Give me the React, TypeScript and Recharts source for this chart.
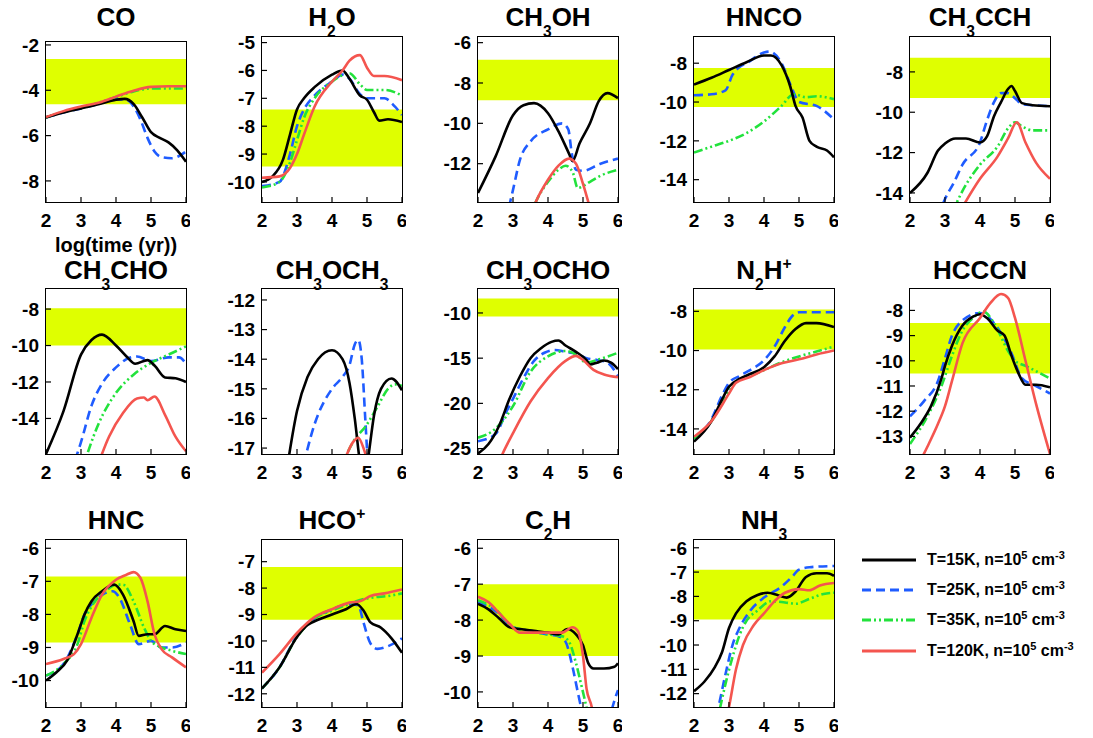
import React from 'react';
import { LineChart, Line, XAxis, YAxis, ReferenceArea } from 'recharts';

type Pt = [number, number];

// ---- CO ----
const coBlack: Pt[] = [[2, -5.2], [2.5, -4.98], [3, -4.8], [3.5, -4.62], [4, -4.42], [4.25, -4.38], [4.5, -4.6], [4.75, -5.2], [5, -5.85], [5.25, -6.1], [5.5, -6.3], [5.75, -6.65], [6, -7.15]];
const coBlue: Pt[] = [[2, -5.2], [2.5, -4.98], [3, -4.8], [3.5, -4.6], [4, -4.4], [4.3, -4.42], [4.5, -4.7], [4.7, -5.3], [4.9, -6.1], [5.1, -6.7], [5.3, -6.95], [5.6, -7.0], [5.8, -6.9], [6, -6.7]];
const coGreen: Pt[] = [[2, -5.2], [2.5, -4.95], [3, -4.78], [3.5, -4.55], [4, -4.3], [4.5, -4.05], [5, -3.92], [5.5, -3.92], [6, -3.92]];
const coRed: Pt[] = [[2, -5.18], [2.5, -4.92], [3, -4.72], [3.5, -4.55], [4, -4.28], [4.5, -4.02], [5, -3.85], [5.5, -3.82], [6, -3.82]];

// ---- H2O ----
const h2oBlack: Pt[] = [[2, -10.0], [2.3, -9.8], [2.6, -9.2], [2.8, -8.3], [3, -7.4], [3.2, -7.0], [3.5, -6.6], [4, -6.15], [4.3, -6.0], [4.5, -6.3], [4.8, -6.9], [5, -7.05], [5.2, -7.5], [5.35, -7.8], [5.6, -7.75], [6, -7.85]];
const h2oBlue: Pt[] = [[2, -10.15], [2.5, -10.0], [2.8, -9.0], [3, -8.0], [3.2, -7.4], [3.5, -6.9], [4, -6.4], [4.3, -6.15], [4.5, -6.3], [4.8, -6.85], [5, -7.0], [5.5, -7.0], [5.8, -7.3], [6, -7.6]];
const h2oGreen: Pt[] = [[2, -10.2], [2.5, -10.0], [2.8, -9.3], [3, -8.5], [3.2, -7.7], [3.5, -7.0], [4, -6.4], [4.5, -6.1], [4.8, -6.5], [5, -6.7], [5.5, -6.7], [6, -6.9]];
const h2oRed: Pt[] = [[2, -9.85], [2.5, -9.8], [2.8, -9.5], [3, -9.0], [3.2, -8.3], [3.5, -7.3], [4, -6.4], [4.3, -6.0], [4.5, -5.65], [4.8, -5.45], [5, -5.9], [5.2, -6.2], [5.5, -6.2], [6, -6.35]];

// ---- CH3OH ----
const ch3ohBlack: Pt[] = [[2, -13.45], [2.5, -11.65], [3, -9.6], [3.3, -9.1], [3.6, -9.0], [4, -9.5], [4.3, -10.4], [4.6, -11.5], [4.7, -11.87], [4.9, -11.0], [5.2, -10.0], [5.45, -8.9], [5.7, -8.5], [6, -8.75]];
const ch3ohBlue: Pt[] = [[2.7, -15.5], [3, -13.3], [3.2, -11.8], [3.5, -10.9], [4, -10.3], [4.4, -10.0], [4.58, -10.3], [4.68, -11.5], [4.8, -12.3], [5, -12.35], [5.5, -12.0], [6, -11.75]];
const ch3ohGreen: Pt[] = [[3.4, -15.0], [3.65, -13.9], [4, -12.9], [4.3, -12.3], [4.5, -12.1], [4.7, -12.4], [4.85, -13.2], [5.2, -12.9], [5.5, -12.6], [6, -12.3]];
const ch3ohRed: Pt[] = [[3.4, -15.0], [3.65, -13.9], [4, -12.8], [4.3, -12.1], [4.6, -11.75], [4.8, -12.0], [5, -13.0], [5.2, -14.2], [5.4, -15.5]];

// ---- HNCO ----
const hncoBlack: Pt[] = [[2, -9.1], [2.5, -8.75], [3, -8.35], [3.5, -7.95], [4, -7.6], [4.2, -7.6], [4.5, -8.1], [4.75, -9.2], [4.9, -10.2], [5.1, -10.8], [5.3, -12.0], [5.5, -12.3], [5.8, -12.5], [6, -12.85]];
const hncoBlue: Pt[] = [[2, -9.65], [2.5, -9.6], [2.9, -9.4], [3.1, -8.6], [3.3, -8.2], [3.5, -8.0], [4, -7.45], [4.15, -7.4], [4.5, -8.0], [4.8, -9.3], [5, -10.0], [5.5, -10.2], [6, -10.9]];
const hncoGreen: Pt[] = [[2, -12.6], [2.5, -12.3], [3, -12.0], [3.5, -11.6], [4, -11.0], [4.5, -10.2], [4.85, -9.6], [5.2, -9.75], [5.5, -9.7], [6, -9.85]];
const hncoRed: Pt[] = [];

// ---- CH3CCH ----
const ch3cchBlack: Pt[] = [[2, -14.0], [2.5, -13.0], [2.8, -11.9], [3, -11.55], [3.3, -11.3], [3.6, -11.3], [4, -11.5], [4.2, -11.2], [4.4, -10.2], [4.6, -9.5], [4.8, -8.85], [4.9, -8.7], [5, -8.95], [5.2, -9.55], [5.5, -9.65], [6, -9.7]];
const ch3cchBlue: Pt[] = [[2.8, -15.2], [3, -14.3], [3.25, -13.5], [3.5, -12.6], [4, -11.5], [4.2, -10.4], [4.4, -9.5], [4.6, -9.05], [4.8, -9.05], [5, -9.3], [5.2, -9.6], [5.5, -9.65], [6, -9.7]];
const ch3cchGreen: Pt[] = [[3.2, -15.0], [3.5, -13.9], [4, -12.6], [4.5, -11.7], [4.8, -10.8], [5, -10.5], [5.2, -10.7], [5.5, -10.9], [6, -10.9]];
const ch3cchRed: Pt[] = [[3.4, -15.0], [4, -13.3], [4.5, -12.2], [4.8, -11.3], [5.05, -10.5], [5.3, -11.5], [5.6, -12.5], [6, -13.3]];

// ---- CH3CHO ----
const ch3choBlack: Pt[] = [[2, -15.95], [2.5, -13.6], [3, -10.5], [3.3, -9.7], [3.6, -9.4], [4, -10.0], [4.3, -10.6], [4.55, -11.0], [4.9, -10.8], [5.1, -11.1], [5.4, -11.75], [5.7, -11.8], [6, -12.0]];
const ch3choBlue: Pt[] = [[2.7, -17.0], [3, -15.3], [3.3, -13.3], [3.6, -12.1], [4, -11.2], [4.3, -10.75], [4.6, -10.6], [5, -10.85], [5.5, -10.65], [5.8, -10.65], [6, -11.0]];
const ch3choGreen: Pt[] = [[3.0, -17.0], [3.5, -14.3], [4, -12.6], [4.5, -11.6], [5, -10.95], [5.5, -10.5], [6, -10.05]];
const ch3choRed: Pt[] = [[3.4, -17.0], [3.8, -15.0], [4.2, -13.7], [4.6, -12.9], [4.8, -12.85], [4.9, -13.0], [5.1, -12.8], [5.4, -13.8], [5.7, -15.0], [6, -15.8]];

// ---- CH3OCH3 ----
const ch3och3Black: Pt[] = [[2.7, -17.8], [3, -15.75], [3.3, -14.6], [3.6, -14.0], [4, -13.7], [4.3, -14.0], [4.5, -14.8], [4.65, -16.0], [4.8, -17.5], [4.92, -18.3], [5.05, -17.2], [5.2, -15.9], [5.4, -15.0], [5.7, -14.65], [6, -15.05]];
const ch3och3Blue: Pt[] = [[3.1, -18.0], [3.5, -16.2], [4, -15.0], [4.3, -14.6], [4.5, -14.2], [4.65, -13.5], [4.75, -13.35], [4.85, -14.0], [4.95, -16.0], [5.02, -17.4], [5.1, -18.5]];
const ch3och3Green: Pt[] = [[4.2, -17.8], [4.6, -16.8], [5, -16.2], [5.3, -15.6], [5.6, -15.0], [5.8, -14.85], [6, -14.9]];
const ch3och3Red: Pt[] = [[4.3, -17.6], [4.6, -16.8], [4.75, -16.65], [4.9, -17.0], [5.0, -17.4], [5.1, -18.0]];

// ---- CH3OCHO ----
const ch3ochoBlack: Pt[] = [[2, -25.55], [2.3, -24.5], [2.6, -22.5], [2.9, -19.5], [3.2, -17.0], [3.5, -15.0], [3.8, -13.9], [4.1, -13.2], [4.3, -13.05], [4.5, -13.6], [4.8, -14.3], [5.1, -15.2], [5.2, -15.7], [5.4, -15.5], [5.6, -15.25], [5.8, -15.5], [6, -16.2]];
const ch3ochoBlue: Pt[] = [[2, -24.2], [2.5, -23.4], [2.8, -21.0], [3, -19.5], [3.3, -17.2], [3.6, -15.3], [3.9, -14.4], [4.2, -14.1], [4.5, -14.3], [4.8, -14.5], [5.1, -15.0], [5.4, -15.2], [5.7, -15.5], [6, -17.0]];
const ch3ochoGreen: Pt[] = [[2, -23.8], [2.5, -22.8], [3, -20.3], [3.5, -16.5], [4, -14.8], [4.5, -14.2], [4.8, -14.6], [5.1, -15.5], [5.4, -15.2], [6, -14.4]];
const ch3ochoRed: Pt[] = [[2.5, -27.5], [2.7, -25.6], [3, -23.3], [3.5, -19.8], [4, -17.2], [4.5, -15.3], [4.8, -14.75], [5, -15.2], [5.3, -16.3], [5.6, -16.8], [6, -17.1]];

// ---- N2H+ ----
const n2hBlack: Pt[] = [[2, -14.65], [2.5, -13.6], [2.8, -12.5], [3, -11.85], [3.3, -11.45], [3.6, -11.2], [4, -10.85], [4.3, -10.3], [4.6, -9.5], [4.9, -8.9], [5.2, -8.6], [5.5, -8.6], [6, -8.8]];
const n2hBlue: Pt[] = [[2, -14.5], [2.5, -13.5], [2.8, -12.3], [3, -11.65], [3.3, -11.3], [3.6, -11.0], [4, -10.5], [4.3, -9.8], [4.6, -8.8], [4.8, -8.25], [5, -8.05], [6, -8.05]];
const n2hGreen: Pt[] = [[2, -14.5], [2.5, -13.6], [3, -12.1], [3.2, -11.6], [3.6, -11.3], [4, -11.0], [4.5, -10.6], [5, -10.3], [5.5, -10.05], [6, -9.8]];
const n2hRed: Pt[] = [[2, -14.4], [2.5, -13.6], [3, -12.2], [3.2, -11.65], [3.6, -11.35], [4, -11.0], [4.5, -10.65], [5, -10.45], [5.5, -10.2], [6, -10.0]];

// ---- HCCCN ----
const hc3nBlack: Pt[] = [[2, -13.05], [2.3, -12.5], [2.6, -11.8], [2.9, -10.7], [3, -10.2], [3.2, -9.4], [3.5, -8.6], [3.8, -8.25], [4, -8.15], [4.2, -8.3], [4.5, -8.8], [4.7, -9.0], [4.9, -9.8], [5.1, -10.5], [5.3, -10.95], [5.6, -10.95], [6, -11.05]];
const hc3nBlue: Pt[] = [[2, -12.2], [2.4, -11.6], [2.8, -10.8], [3, -9.9], [3.2, -9.0], [3.5, -8.4], [4, -8.1], [4.3, -8.35], [4.6, -8.9], [4.9, -9.7], [5.2, -10.7], [5.6, -11.0], [6, -11.3]];
const hc3nGreen: Pt[] = [[2, -13.3], [2.5, -12.2], [2.9, -11.0], [3.2, -9.8], [3.5, -8.8], [3.8, -8.3], [4.1, -8.05], [4.4, -8.5], [4.8, -9.6], [5, -10.0], [5.3, -10.2], [6, -10.7]];
const hc3nRed: Pt[] = [[2.1, -14.5], [2.5, -13.4], [2.8, -12.5], [3, -11.8], [3.2, -10.8], [3.5, -9.3], [4, -8.3], [4.3, -7.7], [4.6, -7.35], [4.8, -7.5], [5, -8.3], [5.3, -10.0], [5.6, -11.7], [6, -13.7]];

// ---- HNC ----
const hncBlack: Pt[] = [[2, -10.0], [2.3, -9.75], [2.6, -9.4], [2.9, -8.6], [3.1, -8.0], [3.3, -7.6], [3.6, -7.3], [3.95, -7.1], [4.2, -7.4], [4.5, -8.2], [4.65, -8.65], [4.9, -8.6], [5.1, -8.6], [5.4, -8.35], [5.7, -8.45], [6, -8.5]];
const hncBlue: Pt[] = [[2, -9.85], [2.5, -9.5], [2.9, -8.6], [3.1, -8.0], [3.4, -7.6], [3.7, -7.35], [3.9, -7.3], [4.1, -7.5], [4.4, -8.3], [4.65, -8.9], [5, -8.8], [5.3, -9.0], [5.6, -9.0], [6, -8.85]];
const hncGreen: Pt[] = [[2, -9.85], [2.5, -9.5], [2.9, -8.9], [3.1, -8.2], [3.4, -7.6], [3.7, -7.3], [4, -7.1], [4.2, -7.1], [4.5, -7.6], [4.8, -8.4], [5, -8.8], [5.3, -9.0], [5.6, -9.1], [6, -9.2]];
const hncRed: Pt[] = [[2, -9.5], [2.5, -9.35], [2.8, -9.2], [3, -8.9], [3.3, -8.1], [3.6, -7.4], [4, -6.95], [4.3, -6.8], [4.5, -6.72], [4.7, -6.9], [4.9, -7.6], [5.1, -8.6], [5.3, -9.05], [5.6, -9.3], [6, -9.6]];

// ---- HCO+ ----
const hcoBlack: Pt[] = [[2, -11.8], [2.5, -11.0], [3, -9.85], [3.3, -9.4], [3.6, -9.2], [4, -9.0], [4.4, -8.8], [4.7, -8.6], [4.9, -8.85], [5.1, -9.3], [5.4, -9.5], [5.7, -9.9], [6, -10.45]];
const hcoBlue: Pt[] = [[2, -11.8], [2.5, -11.0], [3, -9.8], [3.5, -9.15], [4, -8.8], [4.5, -8.6], [4.75, -8.65], [4.9, -9.3], [5.1, -10.1], [5.3, -10.3], [5.6, -10.2], [6, -9.9]];
const hcoGreen: Pt[] = [[2, -11.8], [2.5, -11.0], [3, -9.85], [3.5, -9.15], [4, -8.85], [4.5, -8.6], [4.8, -8.45], [5.2, -8.35], [5.6, -8.3], [6, -8.2]];
const hcoRed: Pt[] = [[2, -11.2], [2.5, -10.5], [3, -9.7], [3.5, -9.1], [4, -8.8], [4.5, -8.55], [4.8, -8.5], [5.1, -8.3], [5.5, -8.2], [6, -8.05]];

// ---- C2H ----
const c2hBlack: Pt[] = [[2, -7.55], [2.3, -7.7], [2.6, -7.95], [2.9, -8.2], [3.2, -8.25], [3.6, -8.3], [4, -8.35], [4.3, -8.4], [4.55, -8.25], [4.8, -8.4], [5, -8.7], [5.15, -9.2], [5.3, -9.35], [5.6, -9.35], [5.9, -9.3], [6, -9.2]];
const c2hBlue: Pt[] = [[2, -7.5], [2.5, -7.75], [3, -8.2], [3.5, -8.3], [4, -8.4], [4.3, -8.45], [4.5, -8.6], [4.7, -9.3], [4.85, -10.0], [4.95, -10.45], [5.1, -11.0], [5.5, -11.3], [5.75, -10.8], [5.85, -10.4], [6, -9.95]];
const c2hGreen: Pt[] = [[2, -7.45], [2.5, -7.7], [3, -8.2], [3.5, -8.3], [4, -8.4], [4.4, -8.45], [4.6, -8.6], [4.8, -9.2], [4.95, -9.8], [5.1, -10.42], [5.2, -10.8]];
const c2hRed: Pt[] = [[2, -7.35], [2.3, -7.5], [2.6, -7.8], [2.9, -8.1], [3.2, -8.35], [3.6, -8.35], [4, -8.35], [4.4, -8.35], [4.7, -8.2], [4.85, -8.3], [5, -9.0], [5.1, -9.9], [5.25, -10.42], [5.35, -11.0]];

// ---- NH3 ----
const nh3Black: Pt[] = [[2, -11.9], [2.3, -11.5], [2.6, -10.9], [2.8, -10.3], [3, -9.3], [3.2, -8.7], [3.5, -8.2], [3.8, -7.95], [4.1, -7.85], [4.4, -7.95], [4.65, -8.05], [4.9, -7.8], [5.2, -7.2], [5.5, -7.05], [5.8, -7.05], [6, -7.15]];
const nh3Blue: Pt[] = [[2.55, -13.5], [2.7, -12.55], [2.9, -11.2], [3.1, -10.0], [3.3, -9.3], [3.6, -8.6], [4, -8.05], [4.5, -7.6], [4.8, -7.2], [5, -6.9], [5.3, -6.8], [6, -6.75]];
const nh3Green: Pt[] = [[2.6, -13.5], [2.75, -12.55], [2.9, -11.6], [3.1, -10.5], [3.3, -9.6], [3.5, -9.0], [3.8, -8.6], [4.2, -8.2], [4.6, -8.25], [4.9, -8.3], [5.3, -8.1], [5.7, -7.9], [6, -7.85]];
const nh3Red: Pt[] = [[2.85, -13.5], [3, -12.55], [3.2, -11.0], [3.4, -10.0], [3.7, -9.2], [4, -8.7], [4.3, -8.2], [4.6, -7.85], [5, -7.7], [5.3, -7.75], [5.6, -7.55], [6, -7.45]];

const legendLabels = ['15', '25', '35', '120'];

const colLeft = [46, 262, 478, 694, 910];
const rowTop = [37, 289, 540];
const PANEL_W = 140;
const Y_AXIS_W = 46;
const X_AXIS_H = 36;
const TOP_PAD = 14;
const FONT = '"Liberation Sans", Arial, Helvetica, sans-serif';

const seriesStyle = [
  { color: '#000000', dash: undefined },
  { color: '#1f5cff', dash: '9 5' },
  { color: '#22e23c', dash: '9 3 2 3 2 3' },
  { color: '#f4554f', dash: undefined },
];
// draw order: blue, green, black, red
const drawOrder = [1, 2, 0, 3];

interface PanelDef {
  title: string;
  col: number;
  row: number;
  top?: number;
  h?: number;
  domain: [number, number];
  ticks: number[];
  band?: [number, number];
  lines: Pt[][];
}

const panels: PanelDef[] = [
  { title: 'CO', col: 0, row: 0, top: 42, h: 160, domain: [-8.93, -1.87], ticks: [-8, -6, -4, -2], band: [-4.62, -2.62], lines: [coBlack, coBlue, coGreen, coRed] },
  { title: 'H_2O', col: 1, row: 0, domain: [-10.72, -4.8], ticks: [-10, -9, -8, -7, -6, -5], band: [-9.45, -7.4], lines: [h2oBlack, h2oBlue, h2oGreen, h2oRed] },
  { title: 'CH_3OH', col: 2, row: 0, domain: [-13.9, -5.72], ticks: [-12, -10, -8, -6], band: [-8.85, -6.85], lines: [ch3ohBlack, ch3ohBlue, ch3ohGreen, ch3ohRed] },
  { title: 'HNCO', col: 3, row: 0, domain: [-15.15, -6.65], ticks: [-14, -12, -10, -8], band: [-10.25, -8.25], lines: [hncoBlack, hncoBlue, hncoGreen, hncoRed] },
  { title: 'CH_3CCH', col: 4, row: 0, domain: [-14.45, -6.27], ticks: [-14, -12, -10, -8], band: [-9.3, -7.3], lines: [ch3cchBlack, ch3cchBlue, ch3cchGreen, ch3cchRed] },
  { title: 'CH_3CHO', col: 0, row: 1, domain: [-15.95, -6.9], ticks: [-14, -12, -10, -8], band: [-10, -7.95], lines: [ch3choBlack, ch3choBlue, ch3choGreen, ch3choRed] },
  { title: 'CH_3OCH_3', col: 1, row: 1, domain: [-17.2, -11.63], ticks: [-17, -16, -15, -14, -13, -12], lines: [ch3och3Black, ch3och3Blue, ch3och3Green, ch3och3Red] },
  { title: 'CH_3OCHO', col: 2, row: 1, domain: [-25.6, -7.35], ticks: [-25, -20, -15, -10], band: [-10.4, -8.4], lines: [ch3ochoBlack, ch3ochoBlue, ch3ochoGreen, ch3ochoRed] },
  { title: 'N_2H^+', col: 3, row: 1, domain: [-15.28, -6.86], ticks: [-14, -12, -10, -8], band: [-9.95, -7.9], lines: [n2hBlack, n2hBlue, n2hGreen, n2hRed] },
  { title: 'HCCCN', col: 4, row: 1, domain: [-13.7, -7.15], ticks: [-13, -12, -11, -10, -9, -8], band: [-10.5, -8.5], lines: [hc3nBlack, hc3nBlue, hc3nGreen, hc3nRed] },
  { title: 'HNC', col: 0, row: 2, domain: [-10.8, -5.75], ticks: [-10, -9, -8, -7, -6], band: [-8.85, -6.85], lines: [hncBlack, hncBlue, hncGreen, hncRed] },
  { title: 'HCO^+', col: 1, row: 2, domain: [-12.5, -6.18], ticks: [-12, -11, -10, -9, -8, -7], band: [-9.2, -7.2], lines: [hcoBlack, hcoBlue, hcoGreen, hcoRed] },
  { title: 'C_2H', col: 2, row: 2, domain: [-10.42, -5.77], ticks: [-10, -9, -8, -7, -6], band: [-9, -7], lines: [c2hBlack, c2hBlue, c2hGreen, c2hRed] },
  { title: 'NH_3', col: 3, row: 2, domain: [-12.55, -5.68], ticks: [-12, -11, -10, -9, -8, -7, -6], band: [-8.95, -6.9], lines: [nh3Black, nh3Blue, nh3Green, nh3Red] },
];

// "CH_3OH" -> CH, sub 3, OH ; "HCO^+" -> HCO, sup +
function ChemText({ text, size }: { text: string; size: number }) {
  const parts: React.ReactNode[] = [];
  let i = 0;
  let k = 0;
  let buf = '';
  while (i < text.length) {
    const c = text[i];
    if ((c === '_' || c === '^') && i + 1 < text.length) {
      if (buf) parts.push(<span key={k++}>{buf}</span>);
      buf = '';
      const s = text[i + 1];
      parts.push(
        <span key={k++} style={{ fontSize: size * 0.6, position: 'relative', top: c === '_' ? size * 0.42 : -size * 0.38 }}>
          {s}
        </span>
      );
      i += 2;
    } else {
      buf += c;
      i++;
    }
  }
  if (buf) parts.push(<span key={k++}>{buf}</span>);
  return <>{parts}</>;
}

const tickStyle = { fill: '#000', fontSize: 19, fontWeight: 700, fontFamily: FONT };

function Panel({ p }: { p: PanelDef }) {
  const left = colLeft[p.col];
  const top = p.top ?? rowTop[p.row];
  const h = p.h ?? (p.row === 2 ? 167 : 165);
  const titleY = [17, 270, 520][p.row];
  return (
    <>
      <div style={{ position: 'absolute', left: left - Y_AXIS_W, top: top - TOP_PAD }}>
        <LineChart
          width={Y_AXIS_W + PANEL_W + 4}
          height={h + X_AXIS_H + TOP_PAD}
          margin={{ top: TOP_PAD, right: 4, bottom: 0, left: 0 }}
        >
          <XAxis
            type="number"
            dataKey="x"
            domain={[2, 6]}
            ticks={[2, 3, 4, 5, 6]}
            allowDataOverflow
            height={X_AXIS_H}
            axisLine={false}
            tickSize={-5}
            tickMargin={17}
            tickLine={{ stroke: '#000', strokeWidth: 1.2 }}
            tick={tickStyle}
            interval={0}
          />
          <YAxis
            type="number"
            domain={p.domain}
            ticks={p.ticks}
            allowDataOverflow
            width={Y_AXIS_W}
            axisLine={false}
            tickSize={-5}
            tickMargin={12}
            tickLine={{ stroke: '#000', strokeWidth: 1.2 }}
            tick={tickStyle}
            interval={0}
          />
          {p.band && (
            <ReferenceArea x1={2} x2={6} y1={p.band[0]} y2={p.band[1]} fill="#dfff00" fillOpacity={1} stroke="none" />
          )}
          {drawOrder.map((si) => {
            const pts = p.lines[si];
            if (!pts.length) return null;
            const st = seriesStyle[si];
            return (
              <Line
                key={si}
                data={pts.map(([x, y]) => ({ x, y }))}
                dataKey="y"
                type="monotone"
                stroke={st.color}
                strokeWidth={2.6}
                strokeDasharray={st.dash}
                dot={false}
                activeDot={false}
                isAnimationActive={false}
              />
            );
          })}
        </LineChart>
      </div>
      <div
        style={{
          position: 'absolute',
          left: left - 1,
          top: top - 1,
          width: PANEL_W + 2,
          height: h + 2,
          border: '1.6px solid #000',
          boxSizing: 'border-box',
          pointerEvents: 'none',
        }}
      />
      <div
        style={{
          position: 'absolute',
          left: left - 40,
          width: PANEL_W + 80,
          top: titleY - 15,
          height: 30,
          lineHeight: '30px',
          textAlign: 'center',
          fontFamily: FONT,
          fontWeight: 700,
          fontSize: 26,
          whiteSpace: 'nowrap',
        }}
      >
        <ChemText text={p.title} size={26} />
      </div>
    </>
  );
}

function Legend() {
  const x0 = 862;
  const ys = [560, 590, 620, 651];
  return (
    <>
      <svg style={{ position: 'absolute', left: 0, top: 0 }} width={1093} height={738}>
        {ys.map((y, i) => (
          <line
            key={i}
            x1={x0}
            x2={x0 + 54}
            y1={y}
            y2={y}
            stroke={seriesStyle[i].color}
            strokeWidth={3}
            strokeDasharray={seriesStyle[i].dash}
          />
        ))}
      </svg>
      {ys.map((y, i) => (
        <div
          key={i}
          style={{
            position: 'absolute',
            left: 927,
            top: y - 12,
            height: 24,
            lineHeight: '24px',
            fontFamily: FONT,
            fontWeight: 700,
            fontSize: 16,
            whiteSpace: 'nowrap',
          }}
        >
          T={legendLabels[i]}K, n=10
          <span style={{ fontSize: 11, position: 'relative', top: -6 }}>5</span> cm
          <span style={{ fontSize: 11, position: 'relative', top: -6 }}>-3</span>
        </div>
      ))}
    </>
  );
}

export default function App() {
  return (
    <div style={{ position: 'absolute', left: 0, top: 0, width: 1093, height: 738, background: '#fff', overflow: 'hidden' }}>
      {panels.map((p) => (
        <Panel key={p.title} p={p} />
      ))}
      <div
        style={{
          position: 'absolute',
          left: colLeft[0] - 40,
          width: PANEL_W + 80,
          top: 232,
          height: 26,
          lineHeight: '26px',
          textAlign: 'center',
          fontFamily: FONT,
          fontWeight: 700,
          fontSize: 20,
        }}
      >
        log(time (yr))
      </div>
      <Legend />
    </div>
  );
}
